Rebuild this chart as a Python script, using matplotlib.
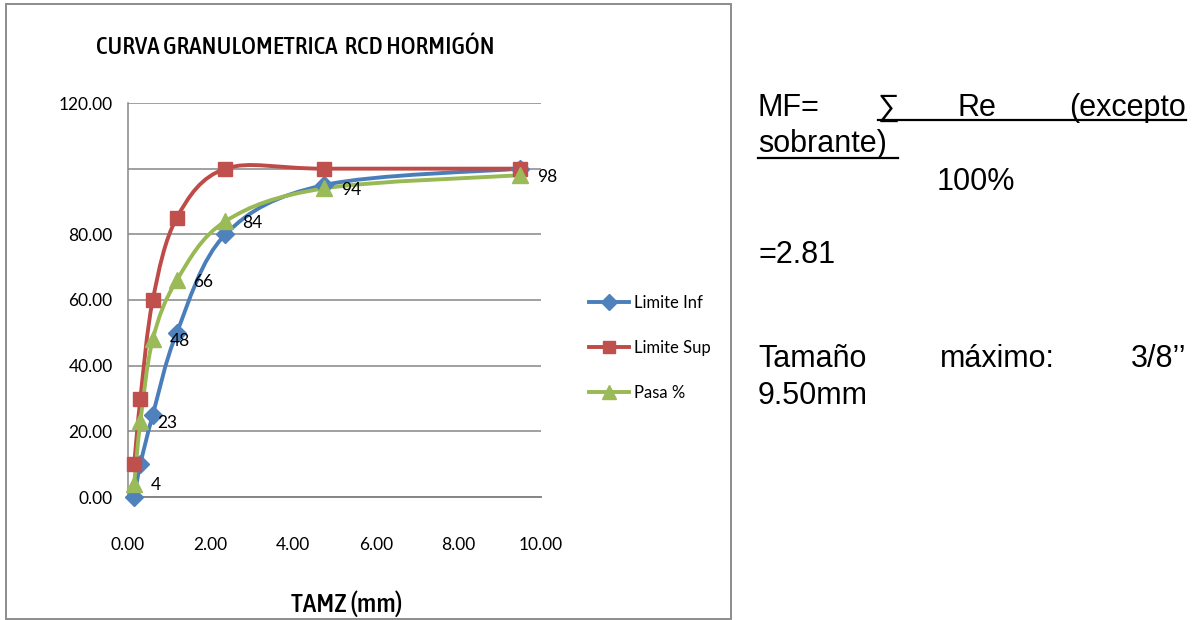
import numpy as np
import matplotlib
matplotlib.use("Agg")
import matplotlib.pyplot as plt
from matplotlib.path import Path
from matplotlib.patches import PathPatch, Rectangle
from matplotlib.lines import Line2D

# aberturas de tamiz (mm) y porcentaje que pasa
tamiz = [0.15, 0.30, 0.60, 1.18, 2.36, 4.75, 9.50]
limite_inf = [0, 10, 25, 50, 80, 95, 100]
limite_sup = [10, 30, 60, 85, 100, 100, 100]
pasa = [4, 23, 48, 66, 84, 94, 98]

nombres = ["Limite Inf", "Limite Sup", "Pasa %"]
colores_linea = ["#4A7EBB", "#BE4B48", "#98B954"]
colores_marca = ["#4F81BD", "#C0504D", "#9BBB59"]
marcas = ["D", "s", "^"]
tam_marca = [9, 10, 11]

x_ticks = [0, 2, 4, 6, 8, 10]
y_ticks = [0, 20, 40, 60, 80, 100, 120]
y_etiquetas = ["0.00", "20.00", "40.00", "60.00", "80.00", "", "120.00"]

W, H = 1201, 620
fuente = ["Lato", "DejaVu Sans"]
arial = ["Liberation Sans", "DejaVu Sans"]
estrecha = ["Asap Condensed", "DejaVu Sans"]


def curva_suave(x, y):
    # linea suavizada tipo Excel (Catmull-Rom como curvas Bezier)
    p = np.column_stack([x, y]).astype(float)
    n = len(p)
    verts = [p[0]]
    codes = [Path.MOVETO]
    for i in range(n - 1):
        p0 = p[max(i - 1, 0)]
        p1 = p[i]
        p2 = p[i + 1]
        p3 = p[min(i + 2, n - 1)]
        verts += [p1 + (p2 - p0) / 6, p2 - (p3 - p1) / 6, p2]
        codes += [Path.CURVE4] * 3
    return Path(verts, codes)


def px(x, y):
    return x / W, 1 - y / H


fig = plt.figure(figsize=(W / 100, H / 100), dpi=100)
ax = fig.add_axes([128 / W, 1 - 497 / H, 413 / W, 394 / H])

series = [limite_inf, limite_sup, pasa]
for i, datos in enumerate(series):
    ax.add_patch(PathPatch(curva_suave(tamiz, datos), facecolor="none",
                           edgecolor=colores_linea[i], lw=2.8, zorder=3,
                           clip_on=False, capstyle="round"))
    ax.plot(tamiz, datos, ls="none", marker=marcas[i], ms=tam_marca[i],
            color=colores_marca[i], zorder=4, clip_on=False)

# etiquetas de valor de la curva real
for xv, yv in zip(tamiz, pasa):
    ax.annotate(f"{yv:g}", (xv, yv), xytext=(12, -1), textcoords="offset points",
                ha="left", va="center", fontsize=12.5, family=fuente, zorder=5)

ax.set_xlim(0, 10)
ax.set_ylim(0, 120)
ax.set_xticks(x_ticks)
ax.set_xticklabels([f"{v:.2f}" for v in x_ticks], family=fuente, fontsize=12.5)
ax.set_yticks(y_ticks)
ax.set_yticklabels(y_etiquetas, family=fuente, fontsize=12.5)
ax.tick_params(axis="x", length=0, pad=29)
ax.tick_params(axis="y", length=0, pad=11)
ax.grid(axis="y", color="#868686", lw=1.1)
ax.set_axisbelow(True)
for lado in ["top", "right"]:
    ax.spines[lado].set_visible(False)
ax.spines["left"].set_color("#868686")
ax.spines["bottom"].set_color("#868686")
ax.spines["left"].set_linewidth(1.1)
ax.spines["bottom"].set_linewidth(1.4)

# leyenda
manejadores = [Line2D([], [], color=colores_linea[i], lw=2.8, marker=marcas[i],
                      ms=tam_marca[i] - 1, markerfacecolor=colores_marca[i],
                      markeredgecolor=colores_marca[i]) for i in range(3)]
fig.legend(manejadores, nombres, loc="center left", bbox_to_anchor=px(589, 348),
           frameon=False, prop={"family": fuente, "size": 12},
           handlelength=2.4, handletextpad=0.3, labelspacing=1.75,
           borderpad=0, borderaxespad=0)

# titulo y nombre del eje
fig.text(*px(295, 47), "CURVA GRANULOMETRICA  RCD HORMIGÓN", ha="center", va="center",
         family=estrecha, weight="medium", fontsize=18.2)
fig.text(*px(347, 604), "TAMZ (mm)", ha="center", va="center",
         family=estrecha, weight="medium", fontsize=19.5)

# marco del grafico
fig.patches.append(Rectangle(px(6, 619), 725 / W, 615 / H, transform=fig.transFigure,
                             facecolor="none", edgecolor="#8C8C8C", lw=1.4))

# texto a la derecha del grafico
texto = dict(family=arial, fontsize=22, va="baseline")
fig.text(*px(758, 116), "MF=", ha="left", **texto)
fig.text(*px(878, 116), "∑", ha="left", **texto)
fig.text(*px(958, 116), "Re", ha="left", **texto)
fig.text(*px(1186, 116), "(excepto", ha="right", **texto)
fig.add_artist(Line2D([878 / W, 1186 / W], [1 - 120 / H] * 2, color="black", lw=1.6))
fig.text(*px(758, 152), "sobrante)", ha="left", **texto)
fig.add_artist(Line2D([758 / W, 898 / W], [1 - 158 / H] * 2, color="black", lw=1.6))
fig.text(*px(937, 190), "100%", ha="left", **texto)
fig.text(*px(758, 263), "=2.81", ha="left", **texto)
fig.text(*px(758, 367), "Tamaño", ha="left", **texto)
fig.text(*px(940, 367), "máximo:", ha="left", **texto)
fig.text(*px(1186, 367), "3/8’’", ha="right", **texto)
fig.text(*px(758, 404), "9.50mm", ha="left", **texto)

fig.savefig("out.png", dpi=100)
